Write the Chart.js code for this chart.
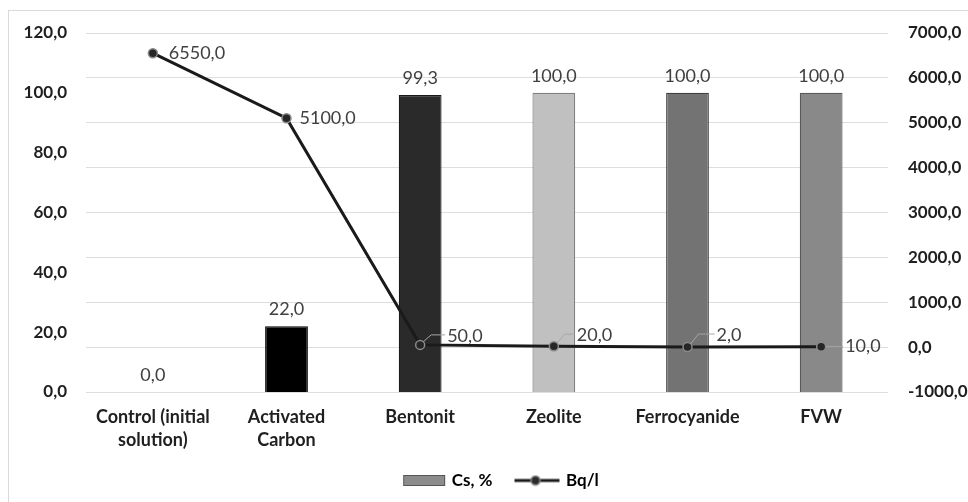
<!DOCTYPE html>
<html><head><meta charset="utf-8">
<script src="https://cdn.jsdelivr.net/npm/chart.js@4.4.1/dist/chart.umd.min.js"></script>
<style>
html,body{margin:0;padding:0;background:#fff;}
#wrap{position:relative;width:968px;height:502px;overflow:hidden;}
#frame{position:absolute;left:8px;top:10px;width:1000px;height:600px;border:1.5px solid #d9d9d9;box-sizing:border-box;}
canvas{position:absolute;left:0;top:0;}
</style></head><body>
<div id="wrap"><div id="frame"></div><canvas id="c" width="968" height="502"></canvas></div>
<script>
// ---- data ----
const categories = [['Control (initial','solution)'], ['Activated','Carbon'], 'Bentonit', 'Zeolite', 'Ferrocyanide', 'FVW'];
const csPercent = [0, 22, 99.3, 100, 100, 100];
const bqPerL = [6550, 5100, 50, 20, 2, 10];
const leftTickRange = [0, 120, 20];
const rightTickRange = [-1000, 7000, 1000];
const seriesNames = ['Cs, %', 'Bq/l'];

// ---- styles ----
const barFill = ['#7f7f7f', '#000000', '#2a2a2a', '#c0c0c0', '#737373', '#898989'];
const barEdge = ['#595959', '#000000', '#1a1a1a', '#808080', '#404040', '#595959'];
const lineLabelStyle = [
  {dx: 16, dy: 0, leader: null},
  {dx: 13, dy: 0, leader: null},
  {dx: 27, dy: -9, leader: 'elbow'},
  {dx: 23, dy: -11, leader: 'elbow'},
  {dx: 29, dy: -12, leader: 'elbow'},
  {dx: 24, dy: 0, leader: 'straight'}
];
const fmt = v => v.toFixed(1).replace('.', ',');

function legendBarImg(){
  const c = document.createElement('canvas'); c.width = 66; c.height = 11;
  const x = c.getContext('2d');
  x.fillStyle = '#8c8c8c'; x.fillRect(23, 0, 42, 11);
  x.strokeStyle = '#555'; x.lineWidth = 1; x.strokeRect(23.5, 0.5, 41, 10);
  return c;
}
function legendLineImg(){
  const c = document.createElement('canvas'); c.width = 66; c.height = 12;
  const x = c.getContext('2d');
  x.strokeStyle = '#1a1a1a'; x.lineWidth = 3;
  x.beginPath(); x.moveTo(20, 6); x.lineTo(65, 6); x.stroke();
  x.beginPath(); x.arc(41, 6, 4.5, 0, Math.PI * 2);
  x.fillStyle = '#2a2a2a'; x.fill(); x.strokeStyle = '#8a8a8a'; x.lineWidth = 1.5; x.stroke();
  return c;
}

const labelPlugin = {
  id: 'valueLabels',
  afterDatasetsDraw(chart){
    const ctx = chart.ctx;
    ctx.save();
    ctx.font = '18px Lato';
    ctx.fillStyle = '#404040';
    ctx.textBaseline = 'middle';
    ctx.textAlign = 'center';
    chart.getDatasetMeta(0).data.forEach((el, i) => {
      ctx.fillText(fmt(csPercent[i]), el.x, el.y - 17);
    });
    ctx.textAlign = 'left';
    chart.getDatasetMeta(1).data.forEach((el, i) => {
      const s = lineLabelStyle[i];
      const tx = el.x + s.dx, ty = el.y + s.dy;
      ctx.strokeStyle = '#a6a6a6'; ctx.lineWidth = 1;
      if (s.leader === 'elbow') {
        ctx.beginPath();
        ctx.moveTo(el.x + 3, el.y - 3);
        ctx.lineTo(el.x + 11, ty - 1);
        ctx.lineTo(tx - 2, ty - 1);
        ctx.stroke();
      } else if (s.leader === 'straight') {
        ctx.beginPath();
        ctx.moveTo(el.x + 5, el.y);
        ctx.lineTo(tx - 2, ty);
        ctx.stroke();
      }
      ctx.fillText(fmt(bqPerL[i]), tx, ty);
    });
    ctx.restore();
  }
};

const tickFont = {family: 'Lato', size: 17, weight: 'bold'};

new Chart(document.getElementById('c'), {
  data: {
    labels: categories,
    datasets: [
      {
        type: 'bar', label: seriesNames[0], data: csPercent, yAxisID: 'yL',
        backgroundColor: barFill, borderColor: barEdge, borderWidth: 1.2,
        barPercentage: 0.32, categoryPercentage: 1, order: 2
      },
      {
        type: 'line', label: seriesNames[1], data: bqPerL, yAxisID: 'yR',
        borderColor: '#1a1a1a', borderWidth: 3, tension: 0,
        pointRadius: 4.5, pointBackgroundColor: '#262626', pointBorderColor: '#8a8a8a',
        pointBorderWidth: 1.5, order: 1
      }
    ]
  },
  options: {
    responsive: false, animation: false,
    layout: {padding: {top: 33, bottom: 3, left: 14, right: 0}},
    plugins: {
      tooltip: {enabled: false},
      legend: {
        position: 'bottom',
        labels: {
          usePointStyle: true, pointStyleWidth: 60, boxHeight: 11,
          font: {family: 'Lato', size: 17, weight: 'bold'}, color: '#1f1f1f', padding: 5,
          generateLabels: () => [
            {text: seriesNames[0], pointStyle: legendBarImg(), fillStyle: '#8c8c8c', strokeStyle: '#555', lineWidth: 0, datasetIndex: 0},
            {text: seriesNames[1], pointStyle: legendLineImg(), fillStyle: '#1a1a1a', strokeStyle: '#1a1a1a', lineWidth: 0, datasetIndex: 1}
          ]
        }
      }
    },
    scales: {
      x: {
        grid: {display: false, drawTicks: false}, border: {display: false},
        ticks: {font: {family: 'Lato', size: 18, weight: 'bold', lineHeight: 1.28}, color: '#1f1f1f', padding: 14, maxRotation: 0, autoSkip: false},
        afterFit(s){ s.height = 75; }
      },
      yL: {
        position: 'left', min: leftTickRange[0], max: leftTickRange[1],
        grid: {display: false, drawTicks: false}, border: {display: false},
        ticks: {stepSize: leftTickRange[2], font: tickFont, color: '#1f1f1f', padding: 19, callback: v => fmt(v)},
        afterFit(s){ s.width = 72; }
      },
      yR: {
        position: 'right', min: rightTickRange[0], max: rightTickRange[1],
        grid: {color: '#dedede', lineWidth: 1, drawTicks: false}, border: {display: false},
        ticks: {stepSize: rightTickRange[2], font: tickFont, color: '#1f1f1f', padding: 20, callback: v => fmt(v)},
        afterFit(s){ s.width = 80; }
      }
    }
  },
  plugins: [labelPlugin]
});
</script>
</body></html>
